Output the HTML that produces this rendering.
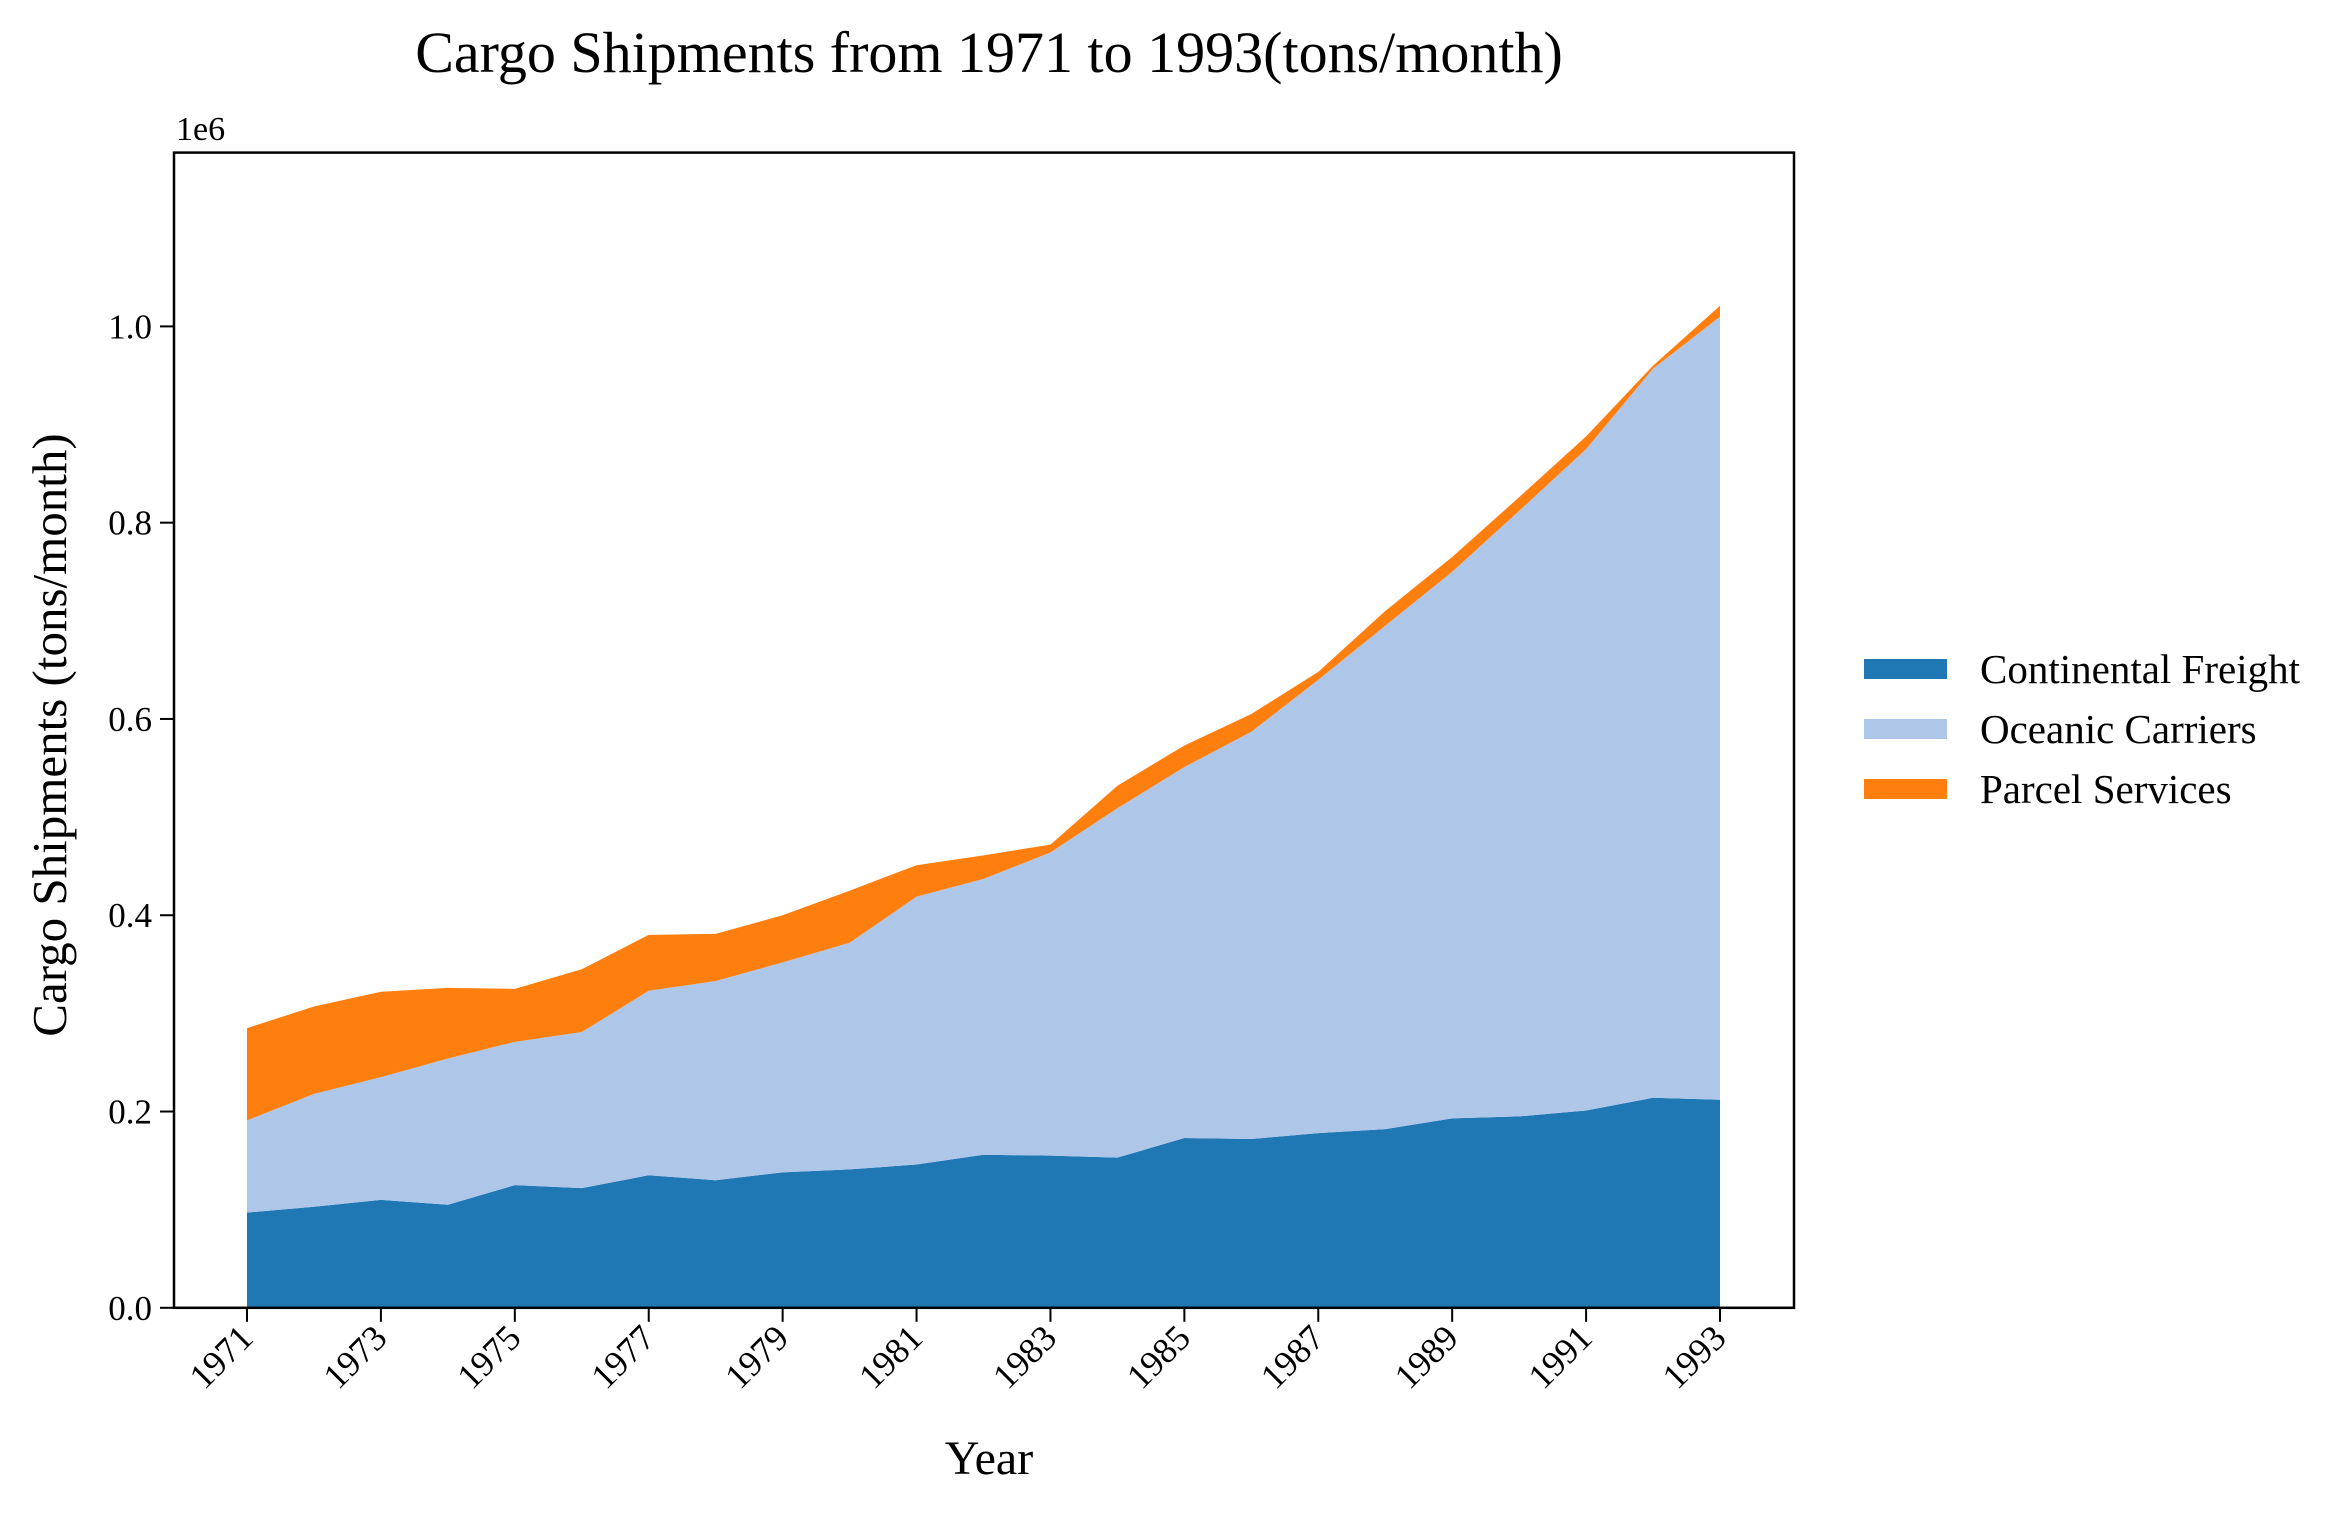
<!DOCTYPE html>
<html><head><meta charset="utf-8"><style>
body{margin:0;background:#fff}
svg{display:block;font-family:"Liberation Serif","Times New Roman",serif}
</style></head><body>
<svg id="chart" width="2352" height="1516" viewBox="0 0 2352 1516" xmlns="http://www.w3.org/2000/svg">
<text x="989" y="72" text-anchor="middle" font-size="58">Cargo Shipments from 1971 to 1993(tons/month)</text>
<g id="areas"></g>
<rect x="174" y="152.6" width="1620" height="1155.2" fill="none" stroke="#000" stroke-width="2.5"/>
<g id="yticks"></g><g id="xticks"></g>
<text x="176" y="140" font-size="34">1e6</text>
<text transform="translate(66,735) rotate(-90)" text-anchor="middle" font-size="49">Cargo Shipments (tons/month)</text>
<text x="989" y="1474" text-anchor="middle" font-size="48">Year</text>
<g id="legend"></g>
</svg>
<script>
const years=[1971,1972,1973,1974,1975,1976,1977,1978,1979,1980,1981,1982,1983,1984,1985,1986,1987,1988,1989,1990,1991,1992,1993];
const continental=[97,103,110,105,125,122,135,130,138,141,146,156,155,153,173,172,178,182,193,195,201,214,212];
const oceanic=[94,115,125,149,146,159,188,203,214,231,273,281,309,356,378,415,462,513,557,617,674,743,798];
const parcel=[94,89,87,72,54,64,57,48,48,53,32,24,8,23,22,18,8,15,15,14,13,3,11];
const seriesNames=["Continental Freight","Oceanic Carriers","Parcel Services"];
const yTickLabels=["0.0","0.2","0.4","0.6","0.8","1.0"];
const yTickValues=[0,200,400,600,800,1000];
const colors=["#1f77b4","#aec7e8","#ff7f0e"];
const NS="http://www.w3.org/2000/svg";
const X=y=>247+(y-1971)*(1720-247)/22;
const Y=v=>1307.8-v*0.9814;
function mk(t,a,p){const e=document.createElementNS(NS,t);for(const k in a)e.setAttribute(k,a[k]);p.appendChild(e);return e;}
const series=[continental,oceanic,parcel];
let base=years.map(()=>0);
const areas=document.getElementById('areas');
series.forEach((s,i)=>{
  const top=base.map((b,j)=>b+s[j]);
  let d=years.map((y,j)=>(j?'L':'M')+X(y)+','+Y(top[j])).join('');
  for(let j=years.length-1;j>=0;j--)d+='L'+X(years[j])+','+Y(base[j]);
  const p=mk('path',{d:d+'Z',fill:colors[i]},areas);
  
  
  base=top;
});
const yt=document.getElementById('yticks');
yTickValues.forEach((v,i)=>{
  const l=mk('line',{x1:160,x2:174,y1:Y(v),y2:Y(v),stroke:'#000','stroke-width':2},yt);
  
  
  const t=mk('text',{x:152,y:Y(v)+12,'text-anchor':'end','font-size':35},yt);
  t.textContent=yTickLabels[i];
  
  
});
const xt=document.getElementById('xticks');
years.forEach((y,i)=>{
  if(i%2)return;
  const l=mk('line',{x1:X(y),x2:X(y),y1:1307.8,y2:1321.8,stroke:'#000','stroke-width':2},xt);
  
  
  const t=mk('text',{transform:`translate(${X(y)+8},${1340}) rotate(-45)`,'text-anchor':'end','font-size':36},xt);
  t.textContent=y;
  
  
});
const lg=document.getElementById('legend');
seriesNames.forEach((n,i)=>{
  const cy=669+i*60;
  const r=mk('rect',{x:1864,y:cy-10,width:83,height:20,fill:colors[i]},lg);
  
  
  const t=mk('text',{x:1980,y:cy+14,'font-size':41},lg);
  t.textContent=n;
  
  
});
</script>
</body></html>
